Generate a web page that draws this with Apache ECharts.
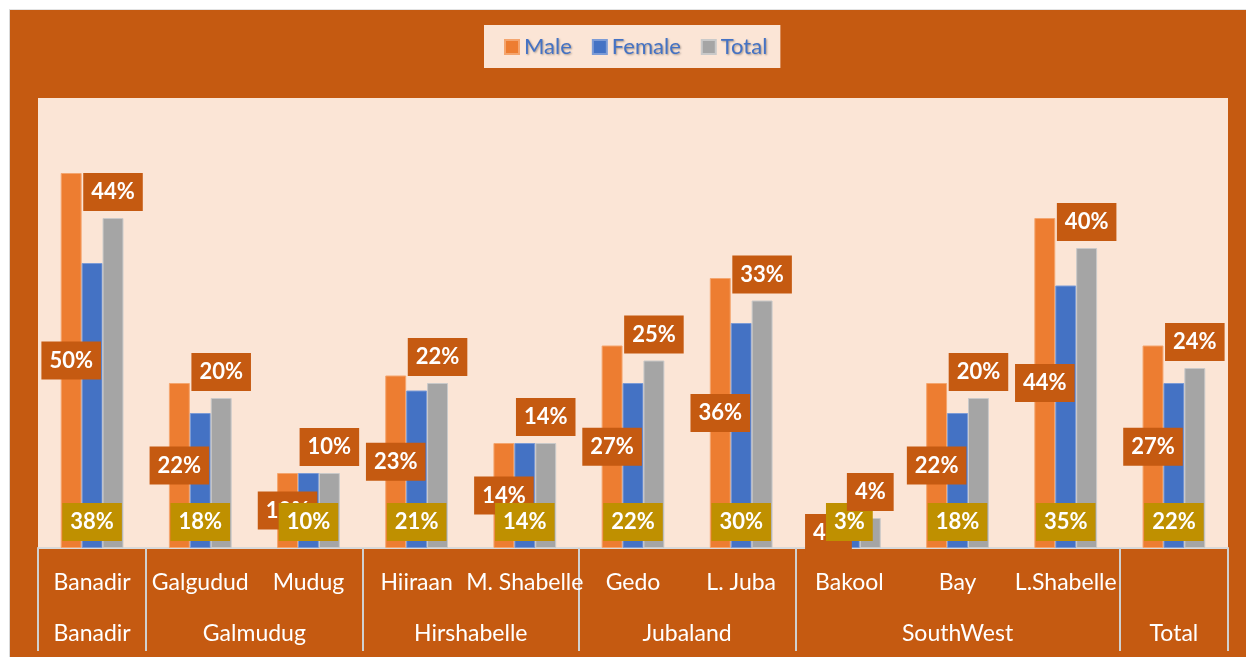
<!DOCTYPE html>
<html>
<head>
<meta charset="utf-8">
<script src="https://cdn.jsdelivr.net/npm/echarts@6/dist/echarts.min.js"></script>
<style>
html,body{margin:0;padding:0;background:#ffffff;}
#frame{position:absolute;left:9px;top:9px;width:1237px;height:648px;border-left:1px solid #D9D9D9;border-top:1px solid #E3E3E3;box-sizing:border-box;}
#chart{position:absolute;left:10px;top:10px;width:1236px;height:647px;}
</style>
</head>
<body>
<div id="frame"></div>
<div id="chart"></div>
<script>
// ---- data ----
var states = ['Banadir', 'Galgudud', 'Mudug', 'Hiiraan', 'M. Shabelle', 'Gedo', 'L. Juba', 'Bakool', 'Bay', 'L.Shabelle', ''];
var regions = ['Banadir', 'Galmudug', 'Hirshabelle', 'Jubaland', 'SouthWest', 'Total'];
var regionSizes = [1, 2, 2, 2, 3, 1];
var male = [50, 22, 10, 23, 14, 27, 36, 4, 22, 44, 27];
var female = [38, 18, 10, 21, 14, 22, 30, 3, 18, 35, 22];
var total = [44, 20, 10, 22, 14, 25, 33, 4, 20, 40, 24];

// region boundaries and centers (in category units)
var boundaries = [0];
var centers = {};
(function () {
  var acc = 0;
  for (var i = 0; i < regionSizes.length; i++) {
    centers[(acc + regionSizes[i] / 2).toFixed(1)] = regions[i];
    acc += regionSizes[i];
    boundaries.push(acc);
  }
})();

var FONT = 'Lato';
var chart = echarts.init(document.getElementById('chart'));

function lbl(pos, bg, dist) {
  return {
    show: true,
    position: pos,
    distance: dist,
    formatter: '{c}%',
    color: '#ffffff',
    fontFamily: FONT,
    fontWeight: 'bold',
    fontSize: 22,
    lineHeight: 24,
    backgroundColor: bg,
    padding: [7, 8, 7, 8]
  };
}

chart.setOption({
  backgroundColor: '#C55A11',
  animation: false,
  legend: {
    left: 474,
    top: 15,
    backgroundColor: '#FBE5D6',
    padding: [11, 13, 10, 20],
    itemWidth: 14,
    itemHeight: 14,
    itemGap: 20,
    icon: 'rect',
    textStyle: {
      color: '#4472C4',
      fontFamily: FONT,
      fontSize: 22,
      textShadowColor: 'rgba(0,0,0,0.35)',
      textShadowBlur: 2,
      textShadowOffsetX: 1,
      textShadowOffsetY: 1
    },
    data: ['Male', 'Female', 'Total']
  },
  grid: {
    left: 28, right: 18, top: 88, bottom: 109,
    show: true, backgroundColor: '#FBE5D6', borderWidth: 0
  },
  xAxis: [
    {
      type: 'category',
      data: states,
      position: 'bottom',
      axisLine: { show: true, lineStyle: { color: '#D9D9D9', width: 2 } },
      axisTick: {
        show: true,
        length: 103,
        lineStyle: { color: '#D0D0D0', width: 2 },
        interval: function (index) { return boundaries.indexOf(index) >= 0; }
      },
      axisLabel: {
        interval: 0,
        margin: 23,
        color: '#ffffff',
        fontFamily: FONT,
        fontSize: 23
      }
    },
    {
      type: 'value',
      position: 'bottom',
      min: 0,
      max: states.length,
      interval: 0.5,
      axisLine: { show: false },
      axisTick: { show: false },
      splitLine: { show: false },
      axisLabel: {
        margin: 74,
        color: '#ffffff',
        fontFamily: FONT,
        fontSize: 23,
        formatter: function (v) { return centers[v.toFixed(1)] || ''; }
      }
    }
  ],
  yAxis: { type: 'value', min: 0, max: 60, show: false, splitLine: { show: false } },
  series: [
    {
      name: 'Male', type: 'bar', data: male,
      barGap: '0%', barCategoryGap: '42%',
      itemStyle: { color: '#ED7D31', borderColor: '#F4A56E', borderWidth: 1 },
      label: lbl('inside', '#C55A11', 0)
    },
    {
      name: 'Female', type: 'bar', data: female,
      barGap: '0%', barCategoryGap: '42%',
      itemStyle: { color: '#4472C4', borderColor: '#7C9BD6', borderWidth: 1 },
      label: lbl('insideBottom', '#BF9000', 7)
    },
    {
      name: 'Total', type: 'bar', data: total,
      barGap: '0%', barCategoryGap: '42%',
      itemStyle: { color: '#A5A5A5', borderColor: '#C9C9C9', borderWidth: 1 },
      label: lbl('top', '#C55A11', 7)
    }
  ]
});
</script>
</body>
</html>
